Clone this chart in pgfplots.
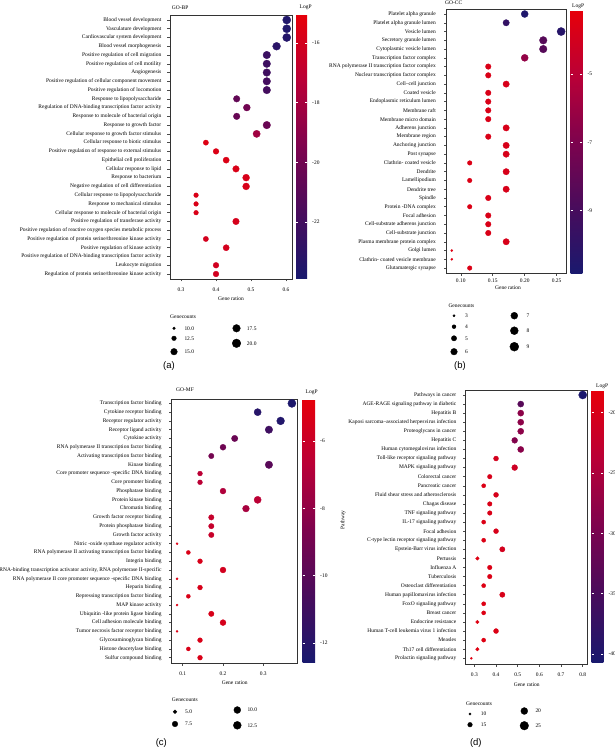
\documentclass[border=0pt]{standalone}
\usepackage{pgfplots}
\usepackage{pgfplotstable}
\pgfplotsset{compat=1.18}
\usepackage{fontspec}
\setmainfont{Liberation Serif}
\newfontfamily\plfont{Liberation Sans}
\newcommand\lab{\fontsize{5.5}{6.5}\selectfont}
\pgfplotsset{colormap={logp}{rgb255=(25,25,110) rgb255=(72,12,92) rgb255=(125,3,78) rgb255=(185,0,55) rgb255=(230,0,10)}}

\pgfplotstableread{
y x n p
1 0.602 21 -23.6
2 0.602 21 -23.6
3 0.602 21 -23.4
4 0.573 20 -23.1
5 0.545 19 -22.3
6 0.545 19 -22.2
7 0.545 19 -22.1
8 0.545 19 -21.9
9 0.545 19 -21.9
10 0.459 16 -20.6
11 0.488 17 -20.0
12 0.459 16 -20.4
13 0.545 19 -20.3
14 0.516 18 -18.2
15 0.371 13 -15.5
16 0.400 14 -15.6
17 0.429 15 -15.6
18 0.457 16 -15.7
19 0.486 17 -15.8
20 0.486 17 -15.8
21 0.343 12 -15.7
22 0.343 12 -15.7
23 0.343 12 -15.7
24 0.457 16 -15.9
26 0.371 13 -16.0
27 0.429 15 -16.0
29 0.400 14 -16.1
30 0.400 14 -16.1
}\tA

\pgfplotstableread{
y x n p
1 0.200 7 -10.6
2 0.171 6 -9.8
3 0.257 9 -10.3
4 0.229 8 -8.4
5 0.229 8 -8.4
6 0.200 7 -6.3
7 0.143 5 -3.7
8 0.143 5 -3.7
9 0.171 6 -3.8
10 0.143 5 -3.7
11 0.143 5 -3.7
12 0.143 5 -3.7
13 0.143 5 -3.7
14 0.171 6 -3.8
15 0.143 5 -3.7
16 0.171 6 -3.8
17 0.171 6 -3.8
18 0.114 4 -3.6
19 0.171 6 -3.8
20 0.114 4 -3.6
21 0.171 6 -3.8
22 0.143 5 -3.7
23 0.114 4 -3.6
24 0.143 5 -3.7
25 0.143 5 -3.7
26 0.143 5 -3.7
27 0.171 6 -3.8
28 0.086 3 -3.5
29 0.086 3 -3.5
30 0.114 4 -3.6
}\tB

\pgfplotstableread{
y x n p
1 0.371 13 -12.4
2 0.286 10 -12.0
3 0.343 12 -12.2
4 0.314 11 -11.0
5 0.229 8 -9.4
6 0.200 7 -9.2
7 0.171 6 -9.0
8 0.314 11 -10.0
9 0.143 5 -6.6
10 0.143 5 -6.6
11 0.200 7 -7.0
12 0.286 10 -6.6
13 0.257 9 -7.3
14 0.171 6 -6.2
15 0.171 6 -6.2
16 0.171 6 -6.1
17 0.086 3 -5.2
18 0.114 4 -5.3
19 0.143 5 -5.4
20 0.200 7 -5.6
21 0.086 3 -5.2
22 0.143 5 -5.4
23 0.114 4 -5.3
24 0.086 3 -5.2
25 0.171 6 -5.4
26 0.200 7 -5.5
27 0.086 3 -5.2
28 0.143 5 -5.3
29 0.114 4 -5.3
30 0.143 5 -5.3
}\tC

\pgfplotstableread{
y x n p
1 0.800 28 -40.5
2 0.514 18 -33.5
3 0.514 18 -28.0
4 0.514 18 -28.0
5 0.514 18 -28.0
6 0.486 17 -29.0
7 0.514 18 -28.3
8 0.400 14 -20.5
9 0.486 17 -21.3
10 0.371 13 -20.0
11 0.343 12 -19.6
12 0.400 14 -20.2
13 0.371 13 -19.8
14 0.371 13 -19.8
15 0.343 12 -19.5
16 0.400 14 -20.0
17 0.343 12 -19.5
18 0.429 15 -20.5
19 0.314 11 -19.3
20 0.371 13 -19.6
21 0.371 13 -19.6
22 0.343 12 -19.3
23 0.429 15 -20.0
24 0.343 12 -19.3
25 0.343 12 -19.3
26 0.314 11 -19.2
27 0.400 14 -19.6
28 0.343 12 -19.2
29 0.314 11 -19.1
30 0.286 10 -19.0
}\tD

\pgfplotstableread{
x y d
174 328.3 3
174 338.3 5
174 351.7 7
236.5 328.3 8
236.5 343.3 9
454 315.7 2.7
454 326.7 4.3
454 338.3 5.7
454 351.7 7
514.3 315.7 7.3
514.3 330.7 8.3
514.3 346.7 9.3
175 711.7 4
175 724 6
237.3 710 7.3
237.3 725.3 8.3
470 714 2.7
470 724.7 5
524.3 711 7.3
524.3 725.7 9
}\legtab

\pgfplotsset{
  dotpanel/.style={
    scale only axis, y dir=reverse,
    ytick={1,...,30},
    xtick pos=bottom, ytick pos=left,
    tick align=outside, major tick length=2.5bp,
    tick style={black!70, line width=0.5pt},
    axis line style={black!80, line width=0.9pt},
    yticklabel style={font=\lab, anchor=east, inner sep=0pt},
    xticklabel style={font=\lab, anchor=center, inner sep=0pt},
    colormap name=logp,
    clip=false,
    colorbar,
    colorbar shift/.style={},
    colorbar style={
      at={(parent axis.north east)}, anchor=north west,
      scale only axis,
      axis line style={draw=none},
      tick align=inside, major tick length=2bp,
      ytick pos=both, yticklabel pos=right,
      ytick style={white, line width=0.6pt},
      yticklabel style={font=\lab, anchor=west, inner sep=0pt, xshift=5bp},
    },
  },
  dots/.style 2 args={scatter, only marks, mark=*, point meta=explicit,
    scatter/use mapped color={draw=mapped color, fill=mapped color},
    visualization depends on={2.5+6.0*sqrt((\thisrow{n}-#1)/(#2-#1)) \as \msz},
    scatter/@pre marker code/.append style={/tikz/mark size=\msz/2-0.15},
    mark options={line width=0.3pt}},
}

\begin{document}
\begin{tikzpicture}
\useasboundingbox (0,0) rectangle (615bp,749bp);

% (a) GO-BP
\begin{axis}[dotpanel,
  at={(170bp,470bp)}, anchor=south west, width=122bp, height=264bp,
  xmin=0.2686, xmax=0.617, ymin=0.43, ymax=30.57,
  xtick={0.3,0.4,0.5,0.6}, xticklabels={0.3,0.4,0.5,0.6},
  xticklabel style={yshift=-8.3bp},
  yticklabel style={xshift=-6bp},
  yticklabels={Blood vessel development, Vasculature development, Cardiovascular system development, Blood vessel morphogenesis, Positive regulation of cell migration, Positive regulation of cell motility, Angiogenesis, Positive regulation of cellular component movement, Positive regulation of locomotion, Response to lipopolysaccharide, Regulation of DNA-binding transcription factor activity, Response to molecule of bacterial origin, Response to growth factor, Cellular response to growth factor stimulus, Cellular response to biotic stimulus, Positive regulation of response to external stimulus, Epithelial cell proliferation, Cellular response to lipid, Response to bacterium, Negative regulation of cell differentiation, Cellular response to lipopolysaccharide, Response to mechanical stimulus, Cellular response to molecule of bacterial origin, Positive regulation of transferase activity, Positive regulation of reactive oxygen species metabolic process, Positive regulation of protein serine/threonine kinase activity, Positive regulation of kinase activity, Positive regulation of DNA-binding transcription factor activity, Leukocyte migration, Regulation of protein serine/threonine kinase activity},
  point meta min=-23.91, point meta max=-15.06,
  colorbar style={xshift=4bp, width=11bp, height=264bp,
    ytick={-16,-18,-20,-22}, yticklabels={-16,-18,-20,-22}},
]
\addplot[dots={10}{21}] table[x=x, y=y, meta=p] {\tA};
\end{axis}

% (b) GO-CC
\begin{axis}[dotpanel,
  at={(446.7bp,475.7bp)}, anchor=south west, width=119.3bp, height=264bp,
  xmin=0.078, xmax=0.2646, ymin=0.46, ymax=30.6,
  xtick={0.10,0.15,0.20,0.25}, xticklabels={0.10,0.15,0.20,0.25},
  xticklabel style={yshift=-5.2bp},
  yticklabel style={xshift=-8.2bp},
  yticklabels={Platelet alpha granule, Platelet alpha granule lumen, Vesicle lumen, Secretory granule lumen, Cytoplasmic vesicle lumen, Transcription factor complex, RNA polymerase II transcription factor complex, Nuclear transcription factor complex, Cell--cell junction, Coated vesicle, Endoplasmic reticulum lumen, Membrane raft, Membrane micro domain, Adherens junction, Membrane region, Anchoring junction, Post synapse, Clathrin- coated vesicle, Dendrite, Lamellipodium, Dendrite tree, Spindle, Protein -DNA complex, Focal adhesion, Cell-substrate adherens junction, Cell-substrate junction, Plasma membrane protein complex, Golgi lumen, Clathrin- coated vesicle membrane, Glutamatergic synapse},
  point meta min=-10.85, point meta max=-3.15,
  colorbar style={xshift=4.7bp, yshift=-1.4bp, width=11.6bp, height=263.3bp,
    ytick={-5,-7,-9}, yticklabels={-5,-7,-9}},
]
\addplot[dots={3}{9}] table[x=x, y=y, meta=p] {\tB};
\end{axis}

% (c) GO-MF
\begin{axis}[dotpanel,
  at={(171.7bp,85.7bp)}, anchor=south west, width=126bp, height=264.3bp,
  xmin=0.0727, xmax=0.3854, ymin=0.5, ymax=30.64,
  xtick={0.1,0.2,0.3}, xticklabels={0.1,0.2,0.3},
  xticklabel style={yshift=-7.7bp},
  yticklabel style={xshift=-7.5bp},
  yticklabels={Transcription factor binding, Cytokine receptor binding, Receptor regulator activity, Receptor ligand activity, Cytokine activity, RNA polymerase II transcription factor binding, Activating transcription factor binding, Kinase binding, Core promoter sequence -specific DNA binding, Core promoter binding, Phosphatase binding, Protein kinase binding, Chromatin binding, Growth factor receptor binding, Protein phosphatase binding, Growth factor activity, Nitric -oxide synthase regulator activity, RNA polymerase II activating transcription factor binding, Integrin binding, {RNA-binding transcription activator activity, RNA polymerase II-specific}, RNA polymerase II core promoter sequence -specific DNA binding, Heparin binding, Repressing transcription factor binding, MAP kinase activity, Ubiquitin -like protein ligase binding, Cell adhesion molecule binding, Tumor necrosis factor receptor binding, Glycosaminoglycan binding, Histone deacetylase binding, Sulfur compound binding},
  point meta min=-12.57, point meta max=-4.75,
  colorbar style={xshift=5bp, width=12.3bp, height=263bp,
    ytick={-6,-8,-10,-12}, yticklabels={-6,-8,-10,-12}},
]
\addplot[dots={3}{13}] table[x=x, y=y, meta=p] {\tC};
\end{axis}

% (d) KEGG
\begin{axis}[dotpanel,
  at={(465.7bp,85bp)}, anchor=south west, width=122bp, height=273.3bp,
  xmin=0.260, xmax=0.823, ymin=0.53, ymax=30.63,
  xtick={0.3,0.4,0.5,0.6,0.7,0.8}, xticklabels={0.3,0.4,0.5,0.6,0.7,0.8},
  xticklabel style={yshift=-8.7bp},
  yticklabel style={xshift=-6.7bp},
  yticklabels={Pathways in cancer, AGE-RAGE signaling pathway in diabetic, Hepatitis B, Kaposi sarcoma--associated herpesvirus infection, Proteoglycans in cancer, Hepatitis C, Human cytomegalovirus infection, Toll-like receptor signaling pathway, MAPK signaling pathway, Colorectal cancer, Pancreatic cancer, Fluid shear stress and atherosclerosis, Chagas disease, TNF signaling pathway, IL-17 signaling pathway, Focal adhesion, C-type lectin receptor signaling pathway, Epstein-Barr virus infection, Pertussis, Influenza A, Tuberculosis, Osteoclast differentiation, Human papillomavirus infection, FoxO signaling pathway, Breast cancer, Endocrine resistance, Human T-cell leukemia virus 1 infection, Measles, Th17 cell differentiation, Prolactin signaling pathway},
  point meta min=-40.75, point meta max=-18.18,
  colorbar style={xshift=4bp, width=11.6bp, height=272.3bp,
    ytick={-20,-25,-30,-35,-40}, yticklabels={-20,-25,-30,-35,-40}},
]
\addplot[dots={10}{28}] table[x=x, y=y, meta=p] {\tD};
\end{axis}

% overlay: legends, titles, labels (image pixel coordinates)
\begin{axis}[at={(0,0)}, anchor=south west, scale only axis,
  width=615bp, height=749bp, xmin=0, xmax=615, ymin=0, ymax=749,
  y dir=reverse, hide axis, clip=false]
\addplot[scatter, only marks, mark=*,
  scatter/use mapped color={draw=black, fill=black},
  visualization depends on={\thisrow{d} \as \msz},
  scatter/@pre marker code/.append style={/tikz/mark size=\msz/2-0.15},
  mark options={line width=0.3pt}] table[x=x, y=y] {\legtab};
\begin{scope}[every node/.style={font=\lab, inner sep=0pt}]
% titles
\node[anchor=west] at (axis cs:171.7,7.3) {GO-BP};
\node[anchor=west] at (axis cs:445,3) {GO-CC};
\node[anchor=west] at (axis cs:176,390) {GO-MF};
\node[anchor=west] at (axis cs:299.5,7.5) {LogP};
\node[anchor=west] at (axis cs:572,6.7) {LogP};
\node[anchor=west] at (axis cs:305.5,392.7) {LogP};
\node[anchor=west] at (axis cs:596,386) {LogP};
% axis titles
\node at (axis cs:231,298.3) {Gene ration};
\node at (axis cs:508,287.3) {Gene ration};
\node at (axis cs:234.7,682.3) {Gene ration};
\node at (axis cs:526.7,684.3) {Gene ration};
\node[rotate=90] at (axis cs:343,520) {Pathway};
% legend (a)
\node[anchor=west] at (axis cs:170,316.7) {Genecounts};
\node[anchor=west] at (axis cs:184.3,328.3) {10.0};
\node[anchor=west] at (axis cs:184.3,338.3) {12.5};
\node[anchor=west] at (axis cs:184.3,351.7) {15.0};
\node[anchor=west] at (axis cs:246.7,328.3) {17.5};
\node[anchor=west] at (axis cs:246.7,343.3) {20.0};
% legend (b)
\node[anchor=west] at (axis cs:448.3,306) {Genecounts};
\node[anchor=west] at (axis cs:465,315.7) {3};
\node[anchor=west] at (axis cs:465,326.7) {4};
\node[anchor=west] at (axis cs:465,338.3) {5};
\node[anchor=west] at (axis cs:465,351.7) {6};
\node[anchor=west] at (axis cs:526.3,315.7) {7};
\node[anchor=west] at (axis cs:526.3,330.7) {8};
\node[anchor=west] at (axis cs:526.3,346.7) {9};
% legend (c)
\node[anchor=west] at (axis cs:171.7,699.3) {Genecounts};
\node[anchor=west] at (axis cs:185,711.7) {5.0};
\node[anchor=west] at (axis cs:185,724) {7.5};
\node[anchor=west] at (axis cs:247.3,710) {10.0};
\node[anchor=west] at (axis cs:247.3,725.3) {12.5};
% legend (d)
\node[anchor=west] at (axis cs:466,703.3) {Genecounts};
\node[anchor=west] at (axis cs:480.7,714) {10};
\node[anchor=west] at (axis cs:480.7,724.7) {15};
\node[anchor=west] at (axis cs:535.3,711) {20};
\node[anchor=west] at (axis cs:535.3,725.7) {25};
\end{scope}
% panel letters
\begin{scope}[every node/.style={font=\plfont\fontsize{9.5}{11}\selectfont, inner sep=0pt}]
\node at (axis cs:169,366) {(a)};
\node at (axis cs:460,366) {(b)};
\node at (axis cs:161.3,743) {(c)};
\node at (axis cs:475.8,743) {(d)};
\end{scope}
\end{axis}
\end{tikzpicture}
\end{document}
